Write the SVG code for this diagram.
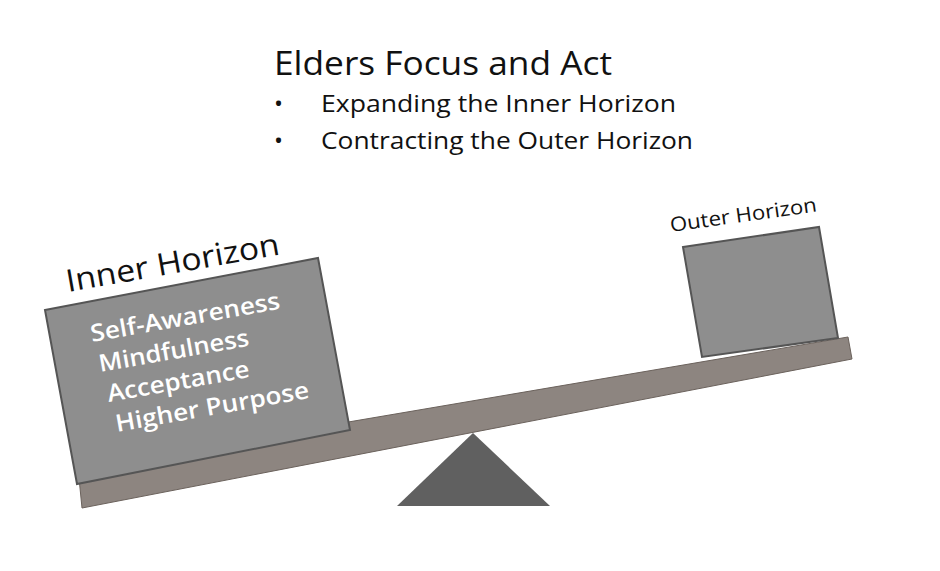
<svg xmlns="http://www.w3.org/2000/svg" width="940" height="571" viewBox="0 0 940 571">
<style>
.t{font-family:"Open Sans","Liberation Sans",sans-serif;fill:#111}
.w{font-family:"Open Sans","Liberation Sans",sans-serif;fill:#fff;font-size:24px;font-weight:600}
.box{fill:#8e8e8e;stroke:#555;stroke-width:2}
</style>
<rect width="940" height="571" fill="#fff"/>
<g id="title">
<text class="t" x="274" y="75" font-size="33" textLength="338" lengthAdjust="spacingAndGlyphs">Elders Focus and Act</text>
<text class="t" x="274" y="112" font-size="24">•</text>
<text class="t" x="321" y="112" font-size="24" textLength="355" lengthAdjust="spacingAndGlyphs">Expanding the Inner Horizon</text>
<text class="t" x="274" y="149" font-size="24">•</text>
<text class="t" x="321" y="149" font-size="24" textLength="372" lengthAdjust="spacingAndGlyphs">Contracting the Outer Horizon</text>
</g>
<g id="fulcrum"><polygon points="473,433 397,506 550,506" fill="#606060"/></g>
<g id="plank"><polygon points="78,468 848,337 852,359 82,508" fill="#8d8580" stroke="#6b625c" stroke-width="1"/></g>
<g id="inner">
<polygon class="box" points="45,310 318,258 350,430 77,484"/>
<text class="t" font-size="31" transform="translate(68,292) rotate(-10)" textLength="216" lengthAdjust="spacingAndGlyphs">Inner Horizon</text>
<g transform="rotate(-10 92 342)">
<text class="w" x="92" y="342" textLength="192" lengthAdjust="spacingAndGlyphs">Self-Awareness</text>
<text class="w" x="95" y="373" textLength="152" lengthAdjust="spacingAndGlyphs">Mindfulness</text>
<text class="w" x="98" y="404" textLength="144" lengthAdjust="spacingAndGlyphs">Acceptance</text>
<text class="w" x="101" y="435" textLength="196" lengthAdjust="spacingAndGlyphs">Higher Purpose</text>
</g>
</g>
<g id="outer">
<polygon class="box" points="683,247 819,227 838,338 702,357"/>
<text class="t" font-size="20" transform="translate(671,232) rotate(-8)" textLength="148" lengthAdjust="spacingAndGlyphs">Outer Horizon</text>
</g>
</svg>
